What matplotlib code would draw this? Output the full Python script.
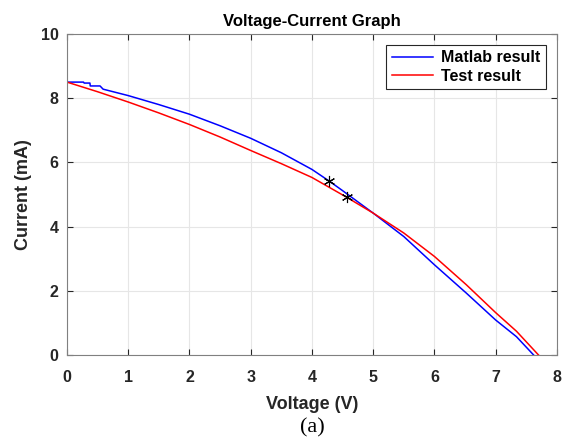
import matplotlib
matplotlib.use('Agg')
import matplotlib.pyplot as plt

# Matlab model curve (voltage in V, current in mA)
v_matlab = [0.0, 0.27, 0.28, 0.375, 0.38, 0.54, 0.59, 1.0, 1.5, 2.0, 2.5,
            3.0, 3.5, 4.0, 4.28, 4.5, 5.0, 5.5, 6.0, 6.52, 7.0, 7.34, 7.62]
i_matlab = [8.5, 8.5, 8.47, 8.47, 8.38, 8.38, 8.28, 8.08, 7.8, 7.5, 7.14,
            6.75, 6.3, 5.78, 5.42, 5.12, 4.42, 3.69, 2.81, 1.93, 1.09, 0.57, 0.0]

# measured curve
v_test = [0.0, 0.5, 1.0, 1.5, 2.0, 2.5, 3.0, 3.5, 4.0, 4.57, 5.0, 5.5, 6.0,
          6.52, 7.0, 7.34, 7.7]
i_test = [8.5, 8.2, 7.88, 7.54, 7.18, 6.79, 6.37, 5.96, 5.53, 4.91, 4.42,
          3.8, 3.07, 2.19, 1.32, 0.74, 0.0]

# operating points marked with stars
star_v = [4.28, 4.57]
star_i = [5.42, 4.91]

plt.rcParams['font.family'] = ['Liberation Sans', 'DejaVu Sans']
dark = '#262626'

fig = plt.figure(figsize=(5.7, 4.38), dpi=100)
ax = fig.add_axes([0.1175, 0.1895, 0.8595, 0.733])

ax.plot(v_matlab, i_matlab, color='blue', linewidth=1.1, label='Matlab result')
ax.plot(v_test, i_test, color='red', linewidth=1.1, label='Test result')
ax.plot(star_v, star_i, linestyle='none', marker=(6, 2, 0), markersize=8,
        color='black', markeredgewidth=0.8)

ax.set_xlim(0, 8)
ax.set_ylim(0, 10)
ax.set_xticks(range(0, 9))
ax.set_yticks(range(0, 11, 2))
ax.grid(True, color='#e6e6e6', linewidth=0.8)
ax.set_axisbelow(True)
ax.tick_params(direction='in', length=4, width=0.8, colors=dark,
               top=True, right=True, labelsize=11.5)
ax.tick_params(axis='x', pad=11)
ax.tick_params(axis='y', pad=6)
for lab in ax.get_xticklabels() + ax.get_yticklabels():
    lab.set_fontweight('bold')
for sp in ax.spines.values():
    sp.set_color('#808080')
    sp.set_linewidth(0.8)

ax.set_title('Voltage-Current Graph', fontsize=12, fontweight='bold',
             color='black', pad=6)
ax.set_xlabel('Voltage (V)', fontsize=13, fontweight='bold', color=dark,
              labelpad=8)
ax.set_ylabel('Current (mA)', fontsize=13, fontweight='bold', color=dark,
              labelpad=6)

leg = ax.legend(loc='upper right', fancybox=False, framealpha=1,
                edgecolor=dark, prop={'weight': 'bold', 'size': 11.5},
                handlelength=2.6, handletextpad=0.5, borderpad=0.35,
                labelspacing=0.2, borderaxespad=0,
                bbox_to_anchor=(0.978, 0.966))
leg.get_frame().set_linewidth(0.8)

fig.text(0.548, 0.023, '(a)', fontsize=16, family='Liberation Serif',
         ha='center', va='center', color='black')

plt.savefig('out.png', dpi=100)
